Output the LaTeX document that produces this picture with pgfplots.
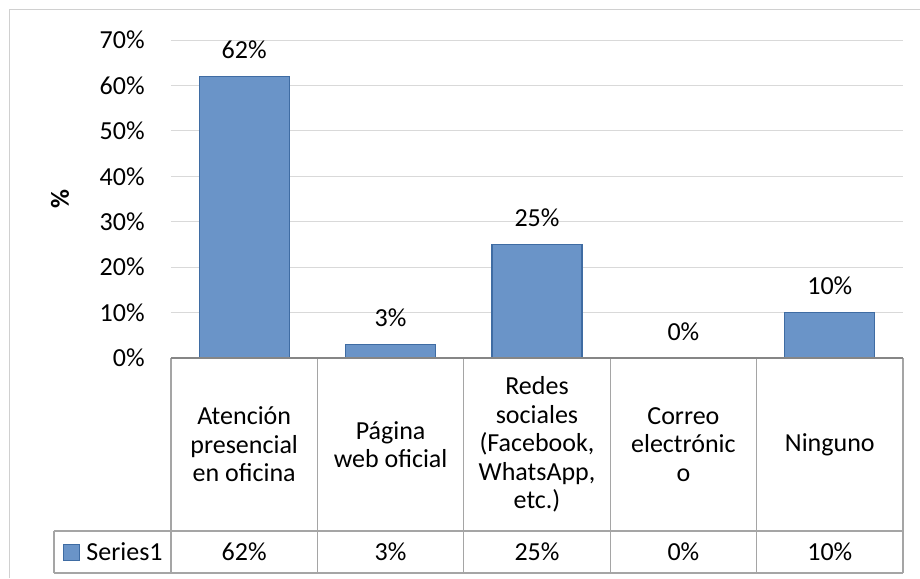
\documentclass[border=0pt]{standalone}
\usepackage{pgfplots}
\pgfplotsset{compat=1.18}
\usepackage{fontspec}
\setmainfont{Carlito}
\definecolor{barfill}{HTML}{6A94C8}
\definecolor{barline}{HTML}{3F6CA3}
\definecolor{gridc}{HTML}{D9D9D9}
\definecolor{tablec}{HTML}{A5A5A5}
\definecolor{axisc}{HTML}{868686}
\definecolor{framec}{HTML}{D0D0D0}

\begin{document}
\begin{tikzpicture}[font=\fontsize{13}{14.2}\selectfont]
\begin{axis}[
  at={(0,0)}, anchor=south west,
  scale only axis, width=366pt, height=159pt,
  xmin=-0.5, xmax=4.5, ymin=0, ymax=70,
  axis line style={draw=none},
  major tick length=0pt,
  ytick={0,10,...,70},
  /pgf/number format/assume math mode=true,
  yticklabel={\pgfmathprintnumber{\tick}\%},
  yticklabel style={anchor=east, inner sep=0pt, xshift=-13pt},
  ymajorgrids, grid style={gridc, line width=0.5pt},
  xtick={0,...,4},
  xticklabels={{Atención\\presencial\\en oficina},{Página\\web oficial},{Redes\\sociales\\(Facebook,\\WhatsApp,\\etc.)},{Correo\\electrónic\\o},{Ninguno}},
  xticklabel style={anchor=center, align=center, inner sep=0pt, yshift=-43.25pt},
  clip=false,
]
\addplot[ybar, bar width=0.615, bar shift=0pt, fill=barfill, draw=barline, line width=0.6pt,
  nodes near coords={\pgfmathprintnumber{\pgfplotspointmeta}\%},
  every node near coord/.append style={anchor=base, inner sep=0pt, yshift=9pt, text=black}]
  coordinates {(0,62) (1,3) (2,25) (3,0) (4,10)};
% values row of the data table
\addplot[draw=none, mark=none, point meta=explicit,
  nodes near coords={\pgfmathprintnumber{\pgfplotspointmeta}\%},
  every node near coord/.append style={anchor=center, inner sep=0pt, yshift=-97pt, text=black}]
  coordinates {(0,0) [62] (1,0) [3] (2,0) [25] (3,0) [0] (4,0) [10]};
\end{axis}
\begin{scope}[x=0.5pt, y=-0.5pt, shift={(-85.5pt,179pt)}]
  \foreach \i in {0,...,5}
    \draw[tablec, line width=0.6pt] ({171+146.4*\i},358) -- ({171+146.4*\i},573);
  \draw[tablec, line width=0.6pt] (54,531) -- (903,531);
  \draw[tablec, line width=0.6pt] (54,573) -- (903,573);
  \draw[tablec, line width=0.6pt] (54,531) -- (54,573);
  \draw[axisc, line width=0.8pt] (171,358) -- (903,358);
  \draw[fill=barfill, draw=barline, line width=0.5pt] (64,544) rectangle (80,560);
  \node[anchor=west, inner sep=0pt] at (86,552) {Series1};
  \node[rotate=90, font=\fontsize{13}{14.2}\selectfont\bfseries] at (60,199) {\%};
  \draw[framec, line width=0.5pt] (10,578) -- (10,10) -- (920,10);
  \pgfresetboundingbox
  \path (0,0) rectangle (920,578);
\end{scope}
\end{tikzpicture}
\end{document}
